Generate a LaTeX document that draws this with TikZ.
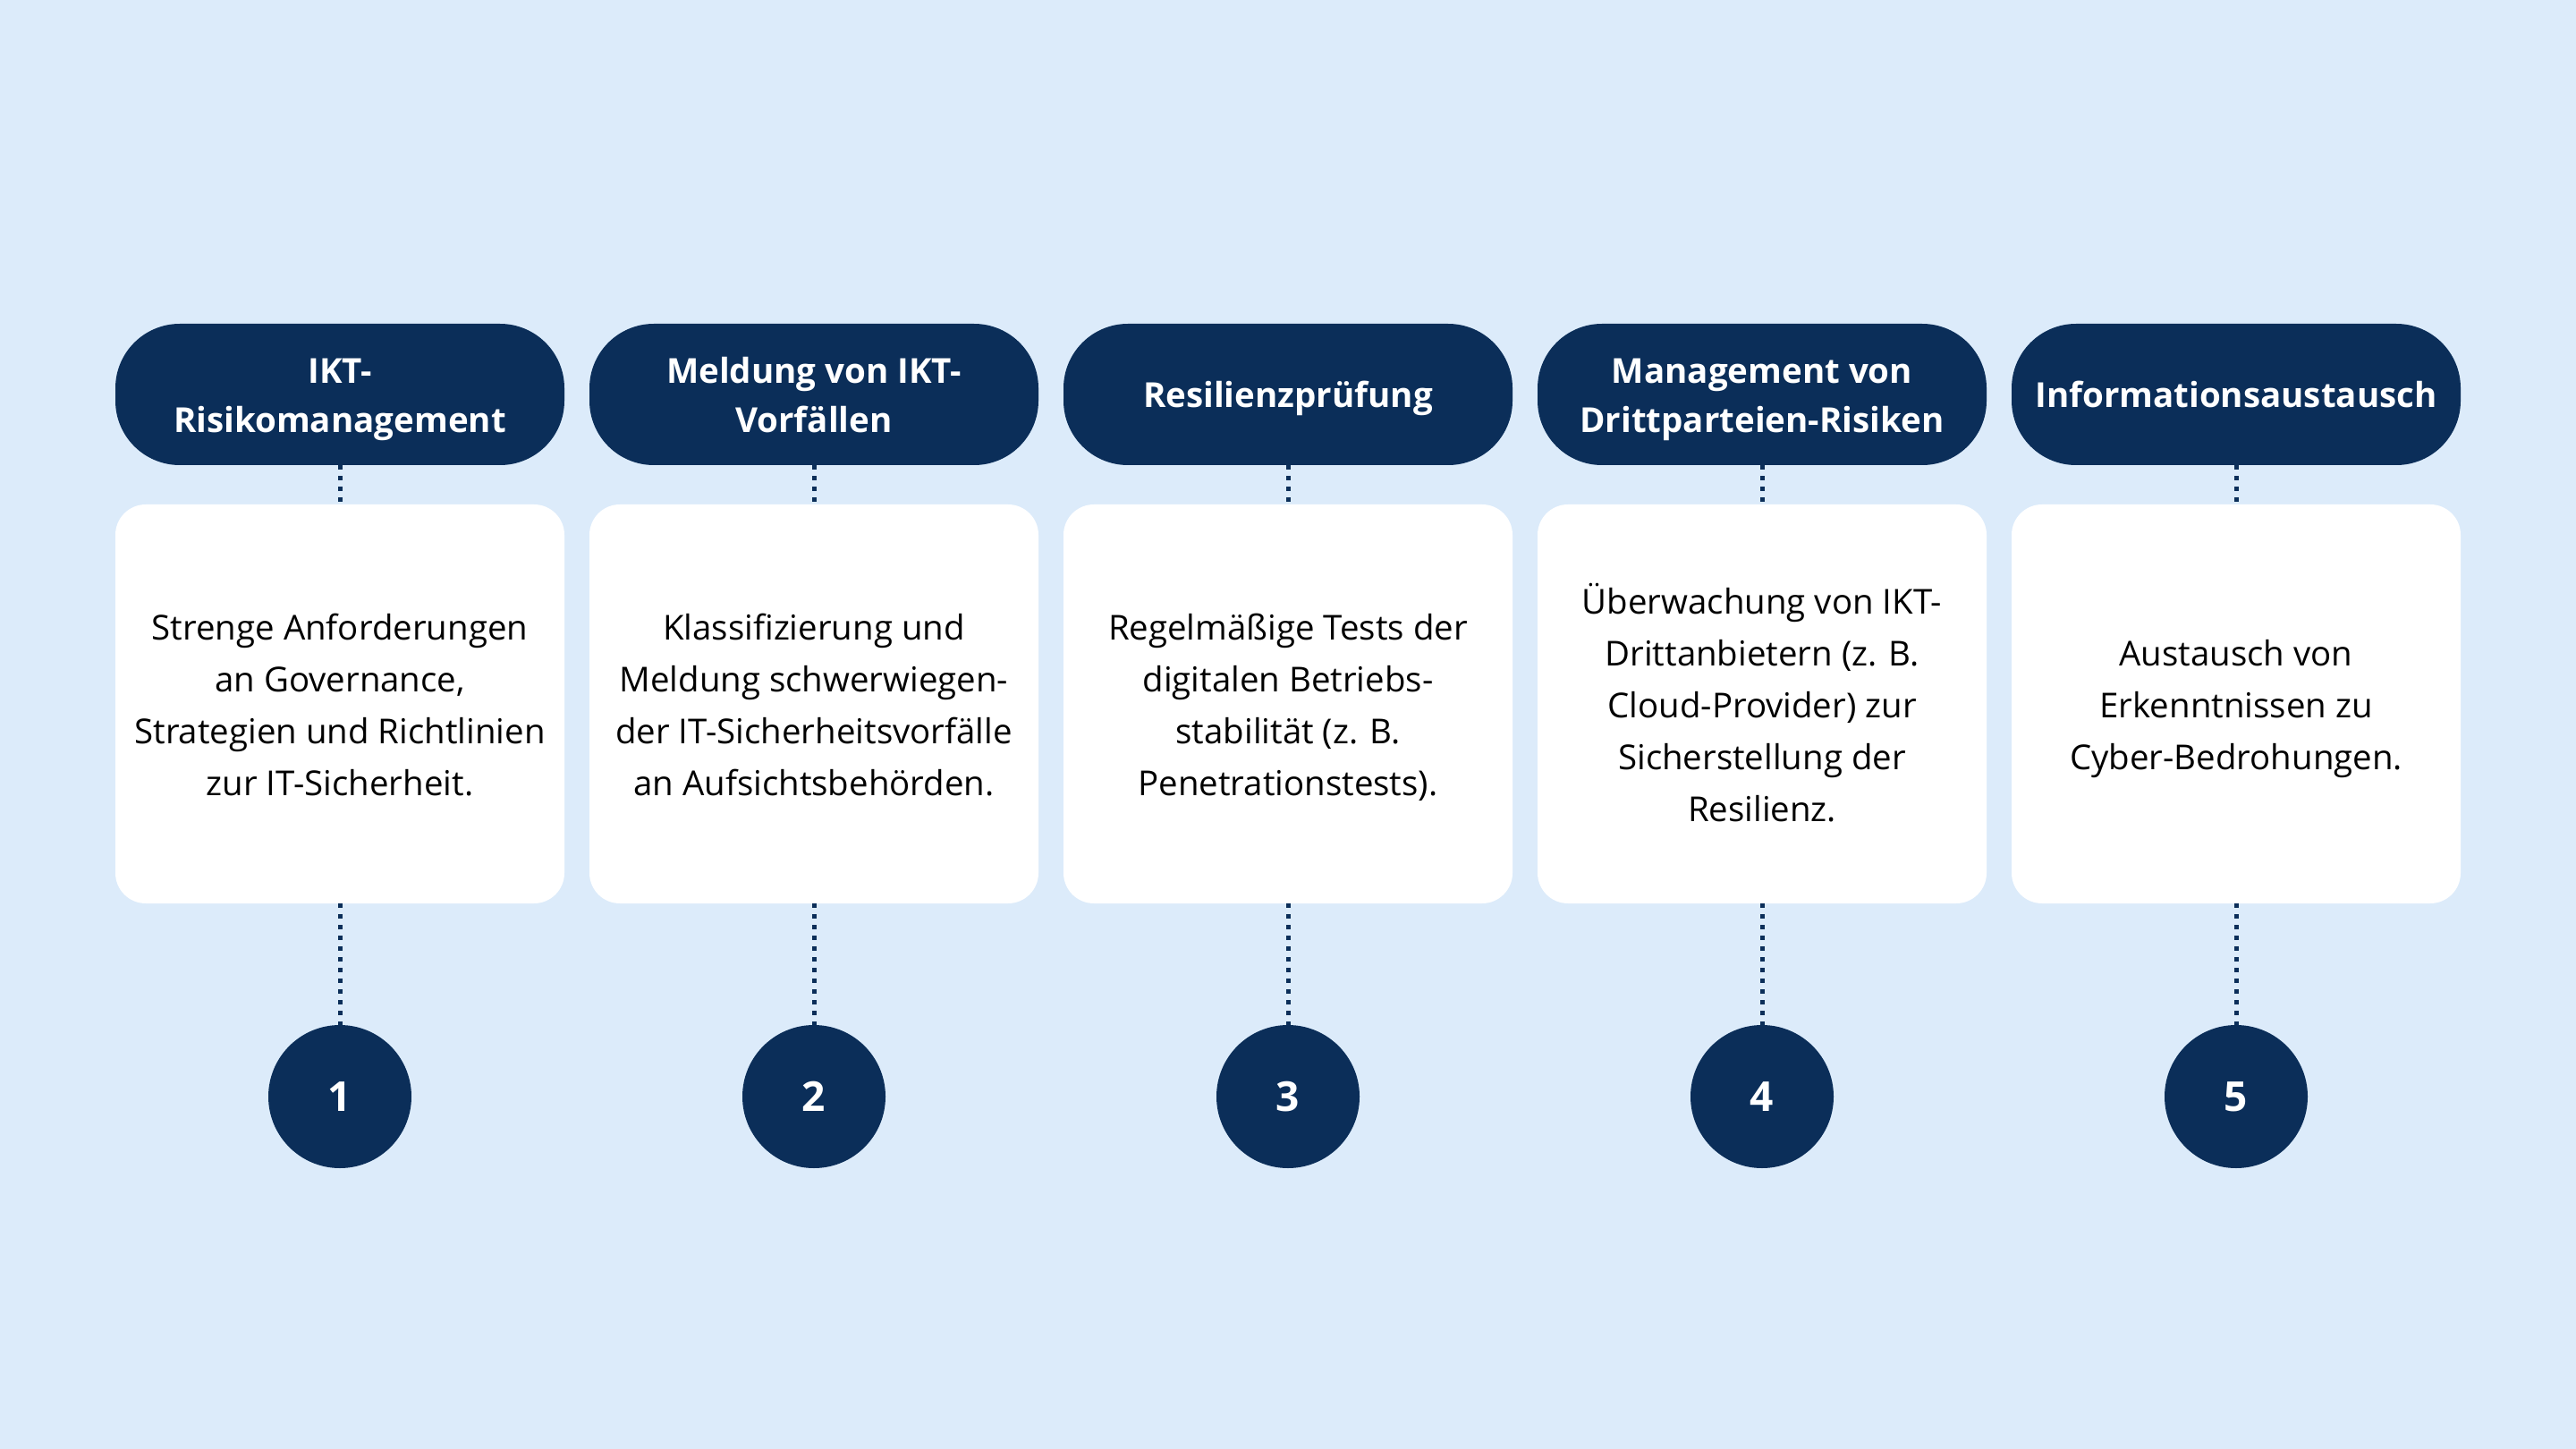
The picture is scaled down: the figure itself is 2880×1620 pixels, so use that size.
\documentclass[tikz,border=0pt]{standalone}
\usepackage{fontspec}
\setmainfont{Open Sans}
\definecolor{navy}{HTML}{0B2E59}
\definecolor{bgblue}{HTML}{DCEBFA}
\tikzset{
  pill/.style={fill=navy, text=white, rounded corners=36pt, minimum width=251pt, minimum height=79pt, align=center, inner sep=0pt, font=\bfseries\fontsize{19.25}{27.5}\selectfont},
  card/.style={fill=white, rounded corners=17pt, minimum width=251pt, minimum height=223pt, align=center, inner sep=0pt, font=\fontsize{19.2}{29}\selectfont},
  numdot/.style={circle, fill=navy, text=white, minimum size=80pt, inner sep=0pt, font=\bfseries\fontsize{23}{23}\selectfont},
  dotline/.style={navy, line width=2.5pt, dash pattern=on 2.5pt off 3.5pt}
}
\begin{document}
\begin{tikzpicture}[x=0.5pt,y=-0.5pt]
\fill[bgblue] (0,0) rectangle (2880,1620);
\useasboundingbox (0,0) rectangle (2880,1620);
% headers (text boxes)
\node[pill] (p1) at (380,441) {};
\node[pill] (p2) at (910,441) {};
\node[pill] (p3) at (1440,441) {};
\node[pill] (p4) at (1970,441) {};
\node[pill] (p5) at (2500,441) {};
\begin{scope}[every node/.style={align=center, text=white, font=\bfseries\fontsize{19.25}{27.5}\selectfont, inner sep=0pt, yshift=-1.8pt}]
\node (t1) at (p1) {\strut IKT-\\Risikomanagement\strut};
\node (t2) at (p2) {\strut Meldung von IKT-\\Vorfällen\strut};
\node (t3) at (p3) {\strut Resilienzprüfung\strut};
\node (t4) at (p4) {\strut Management von\\Drittparteien-Risiken\strut};
\node (t5) at (p5) {\strut Informationsaustausch\strut};
\end{scope}
% cards
\node[card] (b1) at (380,787) {};
\node[card] (b2) at (910,787) {};
\node[card] (b3) at (1440,787) {};
\node[card] (b4) at (1970,787) {};
\node[card] (b5) at (2500,787) {};
\begin{scope}[every node/.style={align=center, font=\fontsize{19.2}{29}\selectfont, inner sep=0pt, yshift=-2pt}]
\node (d1) at (b1) {\strut Strenge Anforderungen\\an Governance,\\Strategien und Richtlinien\\zur IT-Sicherheit.\strut};
\node (d2) at (b2) {\strut Klassifizierung und\\Meldung schwerwiegen-\\der IT-Sicherheitsvorfälle\\an Aufsichtsbehörden.\strut};
\node (d3) at (b3) {\strut Regelmäßige Tests der\\digitalen Betriebs-\\stabilität (z. B.\\Penetrationstests).\strut};
\node (d4) at (b4) {\strut Überwachung von IKT-\\Drittanbietern (z. B.\\Cloud-Provider) zur\\Sicherstellung der\\Resilienz.\strut};
\node (d5) at (b5) {\strut Austausch von\\Erkenntnissen zu\\Cyber-Bedrohungen.\strut};
\end{scope}
% numbers
\node[numdot] (c1) at (380,1226) {1};
\node[numdot] (c2) at (910,1226) {2};
\node[numdot] (c3) at (1440,1226) {3};
\node[numdot] (c4) at (1970,1226) {4};
\node[numdot] (c5) at (2500,1226) {5};
% connectors
\foreach \i in {1,...,5}{
  \draw[dotline] (p\i.south) -- (b\i.north);
  \draw[dotline] (b\i.south) -- (c\i.north);
}
\end{tikzpicture}
\end{document}
